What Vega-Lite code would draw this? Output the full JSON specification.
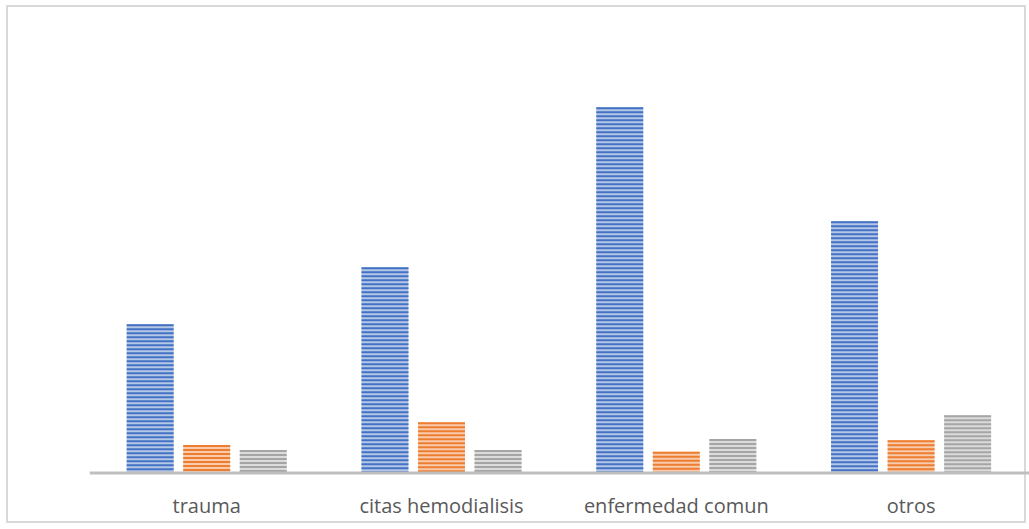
{
  "$schema": "https://vega.github.io/schema/vega-lite/v6.json",
  "width": 1018,
  "height": 516,
  "autosize": {"type": "none"},
  "padding": {"left": 7, "top": 6, "right": 4, "bottom": 7},
  "background": "white",
  "config": {"view": {"stroke": "#d9d9d9", "strokeWidth": 2}},
  "data": {
    "values": [
      {"categoria": "trauma", "serie": "Serie 1", "valor": 148.2},
      {"categoria": "trauma", "serie": "Serie 2", "valor": 27.5},
      {"categoria": "trauma", "serie": "Serie 3", "valor": 22.5},
      {"categoria": "citas hemodialisis", "serie": "Serie 1", "valor": 205.2},
      {"categoria": "citas hemodialisis", "serie": "Serie 2", "valor": 50.2},
      {"categoria": "citas hemodialisis", "serie": "Serie 3", "valor": 22.5},
      {"categoria": "enfermedad comun", "serie": "Serie 1", "valor": 365.2},
      {"categoria": "enfermedad comun", "serie": "Serie 2", "valor": 20.8},
      {"categoria": "enfermedad comun", "serie": "Serie 3", "valor": 33.5},
      {"categoria": "otros", "serie": "Serie 1", "valor": 251.2},
      {"categoria": "otros", "serie": "Serie 2", "valor": 32.2},
      {"categoria": "otros", "serie": "Serie 3", "valor": 57.2}
    ]
  },
  "encoding": {
    "x": {
      "field": "categoria",
      "type": "nominal",
      "sort": ["trauma", "citas hemodialisis", "enfermedad comun", "otros"],
      "scale": {"range": [82.3, 1021.5], "paddingInner": 0.3186, "paddingOuter": 0.1593},
      "axis": {
        "title": null,
        "ticks": false,
        "labelAngle": 0,
        "labelLimit": 400,
        "labelOverlap": false,
        "domainColor": "#bfbfbf",
        "domainWidth": 3,
        "labelColor": "#595959",
        "labelFont": "Open Sans",
        "labelFontSize": 20,
        "labelBaseline": "alphabetic",
        "labelPadding": 40,
        "offset": -49.5,
        "zindex": 1
      }
    },
    "xOffset": {
      "field": "serie",
      "type": "nominal",
      "scale": {"paddingInner": 0.17, "paddingOuter": 0}
    },
    "y": {
      "field": "valor",
      "type": "quantitative",
      "scale": {"domain": [0, 400], "range": [466.5, 66.5]},
      "axis": null
    }
  },
  "layer": [
    {
      "mark": {"type": "bar"},
      "encoding": {
        "fill": {
          "field": "serie",
          "type": "nominal",
          "scale": {"domain": ["Serie 1", "Serie 2", "Serie 3"], "range": ["#b4c7e7", "#f8cbad", "#dbdbdb"]},
          "legend": null
        }
      }
    },
    {
      "mark": {"type": "rule", "strokeDash": [2, 2], "strokeWidth": 47},
      "encoding": {
        "y2": {"datum": 0},
        "stroke": {
          "field": "serie",
          "type": "nominal",
          "scale": {"domain": ["Serie 1", "Serie 2", "Serie 3"], "range": ["#4472c4", "#ed7d31", "#a5a5a5"]},
          "legend": null
        }
      }
    }
  ]
}
